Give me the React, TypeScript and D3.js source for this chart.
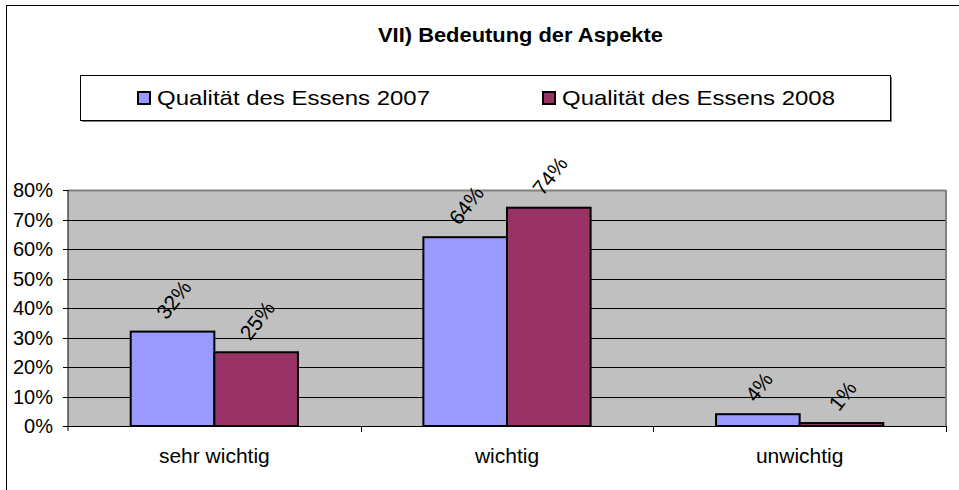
import React from "react";
import * as d3 from "d3";

const categories = ["sehr wichtig", "wichtig", "unwichtig"];
const seriesNames = ["Qualität des Essens 2007", "Qualität des Essens 2008"];
const values2007 = [0.32, 0.64, 0.04];
const values2008 = [0.25, 0.74, 0.01];
const yTicks = [0, 0.1, 0.2, 0.3, 0.4, 0.5, 0.6, 0.7, 0.8];
const colors = ["#9999FF", "#993366"];
const title = "VII) Bedeutung der Aspekte";

const W = 959;
const H = 490;
const FONT = "'Liberation Sans', Arial, sans-serif";

export default function App() {
  const plot = { left: 68, right: 946, top: 190, bottom: 426 };
  const x = d3.scaleBand<string>().domain(categories).range([plot.left, plot.right]).padding(0);
  const xs = d3
    .scaleBand<string>()
    .domain(seriesNames)
    .range([0, x.bandwidth()])
    .paddingInner(0)
    .paddingOuter(0.75);
  const y = d3.scaleLinear().domain([0, 0.8]).range([plot.bottom, plot.top]);
  const fmt = d3.format(".0%");
  const series = [values2007, values2008];

  const labelFs = 21;
  const angle = 52;
  const rad = (angle * Math.PI) / 180;
  const estW = (s: string) =>
    s.split("").reduce((a, c) => a + (c === "%" ? 0.889 : 0.556), 0) * labelFs;

  return (
    <svg
      width={W}
      height={H}
      style={{ position: "absolute", left: 0, top: 0, fontFamily: FONT }}
    >
      <rect x={0} y={0} width={W} height={H} fill="#fff" />
      {/* outer chart border */}
      <rect x={6.5} y={5.5} width={W + 10} height={H + 10} fill="none" stroke="#000" strokeWidth={1} />

      {/* title */}
      <text
        x={520.5}
        y={42}
        textAnchor="middle"
        fontSize={21}
        fontWeight="bold"
        fill="#000"
        textLength={285}
        lengthAdjust="spacingAndGlyphs"
      >
        {title}
      </text>

      {/* legend */}
      <rect x={82} y={77} width={810} height={45} fill="#808080" />
      <rect x={80.5} y={75.5} width={810} height={45} fill="#fff" stroke="#000" strokeWidth={1} />
      {seriesNames.map((s, i) => {
        const lx = i === 0 ? 137 : 542;
        return (
          <g key={s}>
            <rect x={lx + 1} y={92} width={12} height={12} fill={colors[i]} stroke="#000" strokeWidth={2} />
            <text
              x={lx + 20}
              y={105}
              fontSize={21}
              fill="#000"
              textLength={273}
              lengthAdjust="spacingAndGlyphs"
            >
              {s}
            </text>
          </g>
        );
      })}

      {/* plot area */}
      <rect
        x={plot.left}
        y={plot.top}
        width={plot.right - plot.left}
        height={plot.bottom - plot.top}
        fill="#C0C0C0"
      />
      {/* gridlines */}
      {yTicks.slice(1).map((t) => (
        <line
          key={t}
          x1={plot.left}
          x2={plot.right}
          y1={Math.round(y(t)) + 0.5}
          y2={Math.round(y(t)) + 0.5}
          stroke={t === 0.8 ? "#808080" : "#000"}
          strokeWidth={t === 0.8 ? 2 : 1}
        />
      ))}
      {/* plot right border */}
      <line x1={plot.right} x2={plot.right} y1={plot.top} y2={plot.bottom} stroke="#808080" strokeWidth={2} />

      {/* bars */}
      {categories.map((c, ci) =>
        seriesNames.map((s, si) => {
          const v = series[si][ci];
          const bx = (x(c) as number) + (xs(s) as number);
          const by = y(v);
          return (
            <rect
              key={c + s}
              x={bx}
              y={by}
              width={xs.bandwidth()}
              height={y(0) - by}
              fill={colors[si]}
              stroke="#000"
              strokeWidth={2}
            />
          );
        })
      )}

      {/* data labels */}
      {categories.map((c, ci) =>
        seriesNames.map((s, si) => {
          const v = series[si][ci];
          const label = fmt(v);
          const cx = (x(c) as number) + (xs(s) as number) + xs.bandwidth() / 2;
          const w = estW(label);
          const h = labelFs * 1.0;
          const ext = w * Math.sin(rad) + h * Math.cos(rad);
          const cy = y(v) - 9 - ext / 2;
          return (
            <text
              key={"l" + c + s}
              x={0}
              y={0}
              transform={`translate(${cx + 1},${cy}) rotate(${-angle})`}
              textAnchor="middle"
              dominantBaseline="central"
              fontSize={labelFs}
              fill="#000"
            >
              {label}
            </text>
          );
        })
      )}

      {/* axes */}
      <line x1={plot.left} x2={plot.left} y1={plot.top} y2={plot.bottom + 5} stroke="#000" strokeWidth={1} />
      <line x1={plot.left - 5} x2={plot.right} y1={plot.bottom + 0.5} y2={plot.bottom + 0.5} stroke="#000" strokeWidth={1} />
      {yTicks.map((t) => (
        <g key={"yt" + t}>
          <line x1={plot.left - 5} x2={plot.left} y1={Math.round(y(t)) + 0.5} y2={Math.round(y(t)) + 0.5} stroke="#000" />
          <text x={53} y={y(t) + 7} textAnchor="end" fontSize={20} fill="#000">
            {fmt(t)}
          </text>
        </g>
      ))}
      {categories.map((c, i) => (
        <g key={"xt" + c}>
          {i > 0 && (
            <line
              x1={Math.round(x(c) as number) + 0.5}
              x2={Math.round(x(c) as number) + 0.5}
              y1={plot.bottom}
              y2={plot.bottom + 6}
              stroke="#000"
            />
          )}
          <text
            x={(x(c) as number) + x.bandwidth() / 2}
            y={463}
            textAnchor="middle"
            fontSize={21}
            fill="#000"
          >
            {c}
          </text>
        </g>
      ))}
      <line x1={plot.right + 0.5} x2={plot.right + 0.5} y1={plot.bottom} y2={plot.bottom + 6} stroke="#000" />
    </svg>
  );
}
